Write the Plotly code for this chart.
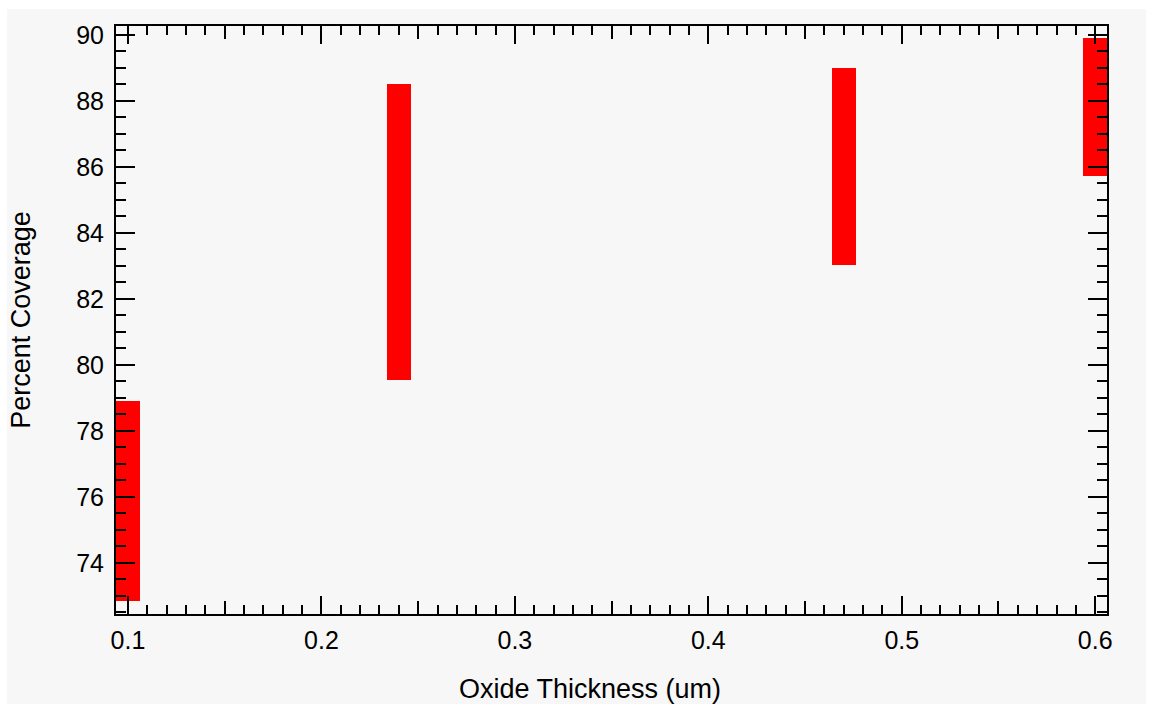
import plotly.graph_objects as go

# Data
thickness = [0.1, 0.24, 0.47, 0.6]
coverage_low = [72.83, 79.55, 83.02, 85.71]
coverage_high = [78.91, 88.52, 89.01, 89.92]

W, H = 1149, 704
L, R, T, B = 116, 42, 26, 90
pw, ph = W - L - R, H - T - B

BG = "#f7f7f7"
FONT = "Liberation Sans, Arial, sans-serif"

fig = go.Figure()
fig.add_trace(go.Bar(
    x=thickness,
    y=[h - l for h, l in zip(coverage_high, coverage_low)],
    base=coverage_low,
    width=0.0122,
    marker=dict(color="#ff0000", line=dict(width=0)),
    showlegend=False,
))
# invisible trace on the overlay axis so it renders its ticks
fig.add_trace(go.Scatter(x=[thickness[0]], y=[coverage_low[0]], xaxis="x2", yaxis="y",
                         mode="markers", marker=dict(opacity=0), showlegend=False,
                         hoverinfo="skip"))

xr = [0.0938, 0.6061]
yr = [72.45, 90.27]

fig.update_layout(
    width=W, height=H,
    margin=dict(l=L, r=R, t=T, b=B, autoexpand=False),
    paper_bgcolor="white",
    plot_bgcolor=BG,
    font=dict(family=FONT, size=25, color="black"),
    bargap=0,
    xaxis=dict(
        range=xr, dtick=0.1, tick0=0, tickformat=".1f",
        ticks="inside", ticklen=18, tickwidth=2, tickcolor="black",
        showline=True, linewidth=2, linecolor="black", mirror="ticks",
        showgrid=False, zeroline=False,
        tickfont=dict(family=FONT, size=25),
        minor=dict(dtick=0.01, tick0=0, ticks="inside", ticklen=9, tickwidth=2,
                   tickcolor="black", showgrid=False),
        ticklabelstandoff=3,
    ),
    xaxis2=dict(
        range=xr, overlaying="x", side="bottom", dtick=0.05, tick0=0,
        ticks="inside", ticklen=13, tickwidth=2, tickcolor="black",
        showticklabels=False, showline=False, mirror="ticks",
        showgrid=False, zeroline=False,
    ),
    yaxis=dict(
        range=yr, dtick=2, tick0=0,
        ticks="inside", ticklen=19, tickwidth=2, tickcolor="black",
        showline=True, linewidth=2, linecolor="black", mirror="ticks",
        showgrid=False, zeroline=False,
        tickfont=dict(family=FONT, size=25),
        minor=dict(dtick=0.5, tick0=0, ticks="inside", ticklen=10, tickwidth=2,
                   tickcolor="black", showgrid=False),
        ticklabelstandoff=5,
        title=dict(text="Percent Coverage", standoff=38,
                   font=dict(family=FONT, size=27)),
    ),
    annotations=[dict(
        text="Oxide Thickness (um)", xref="paper", yref="paper",
        x=(590 - L) / pw, y=-(689 - (H - B)) / ph,
        xanchor="center", yanchor="middle", showarrow=False,
        font=dict(family=FONT, size=27),
    )],
    shapes=[dict(
        type="rect", xref="paper", yref="paper", layer="below",
        x0=(7 - L) / pw, x1=(1146 - L) / pw,
        y0=(H - B - H) / ph, y1=(H - B - 9) / ph,
        fillcolor=BG, line=dict(width=0),
    )],
)

fig.write_html("out.html")
